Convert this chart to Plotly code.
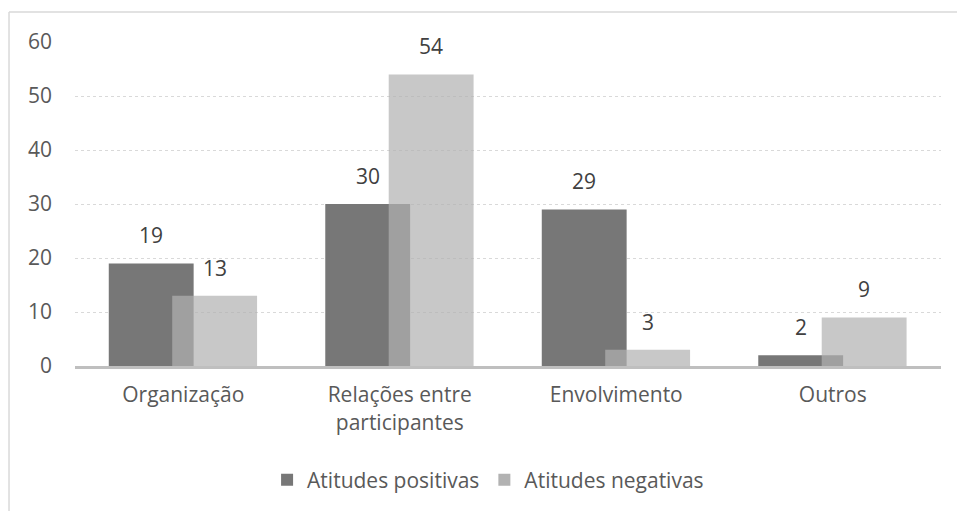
import plotly.graph_objects as go

categories = ["Organização", "Relações entre<br>participantes", "Envolvimento", "Outros"]
positivas = [19, 30, 29, 2]
negativas = [13, 54, 3, 9]
series_names = ["Atitudes positivas", "Atitudes negativas"]
y_ticks = [0, 10, 20, 30, 40, 50, 60]

FONT = "Open Sans"
TXT = "#595959"
FS = 21
W = 0.392
OFF_POS = -0.344
OFF_NEG = -0.051

fig = go.Figure()
fig.add_trace(go.Bar(
    x=categories, y=positivas, name=series_names[0],
    width=W, offset=OFF_POS,
    marker=dict(color="#777777", line=dict(width=0)),
))
fig.add_trace(go.Bar(
    x=categories, y=negativas, name=series_names[1],
    width=W, offset=OFF_NEG,
    marker=dict(color="rgb(178,178,178)", opacity=0.71, line=dict(width=0)),
))

annotations = []
for i, v in enumerate(positivas):
    annotations.append(dict(x=i + OFF_POS + W / 2, y=v, xref="x", yref="y", text=str(v),
                            showarrow=False, yanchor="bottom", yshift=12,
                            font=dict(family=FONT, size=FS, color="#404040")))
for i, v in enumerate(negativas):
    annotations.append(dict(x=i + OFF_NEG + W / 2, y=v, xref="x", yref="y", text=str(v),
                            showarrow=False, yanchor="bottom", yshift=12,
                            font=dict(family=FONT, size=FS, color="#404040")))

fig.update_layout(
    width=957, height=511,
    margin=dict(l=75, r=16, t=42, b=144),
    paper_bgcolor="white", plot_bgcolor="white",
    barmode="overlay",
    font=dict(family=FONT, size=FS, color=TXT),
    showlegend=True,
    legend=dict(orientation="h", x=0.477, xanchor="center", y=-0.348, yanchor="middle",
                font=dict(family=FONT, size=FS, color=TXT), itemsizing="constant",
                traceorder="normal"),
    annotations=annotations,
    shapes=[
        dict(type="line", xref="paper", yref="paper", x0=-0.0762, x1=-0.0762, y0=1.0923, y1=-0.5,
             line=dict(color="#d9d9d9", width=1.5)),
        dict(type="line", xref="paper", yref="paper", x0=-0.0762, x1=1.1, y0=1.0923, y1=1.0923,
             line=dict(color="#d9d9d9", width=1.5)),
    ],
    xaxis=dict(
        type="category", range=[-0.5, 3.5],
        showline=True, linecolor="#bfbfbf", linewidth=3,
        ticks="", showgrid=False,
        tickfont=dict(family=FONT, size=FS, color=TXT),
        ticklabelstandoff=8,
    ),
    yaxis=dict(
        range=[0, 60], tickvals=y_ticks,
        showgrid=True, gridcolor="#d9d9d9", griddash="dot", gridwidth=1,
        zeroline=False, showline=False, ticks="",
        tickfont=dict(family=FONT, size=FS, color=TXT),
        ticklabelstandoff=22,
    ),
)

fig.write_html("out.html")
